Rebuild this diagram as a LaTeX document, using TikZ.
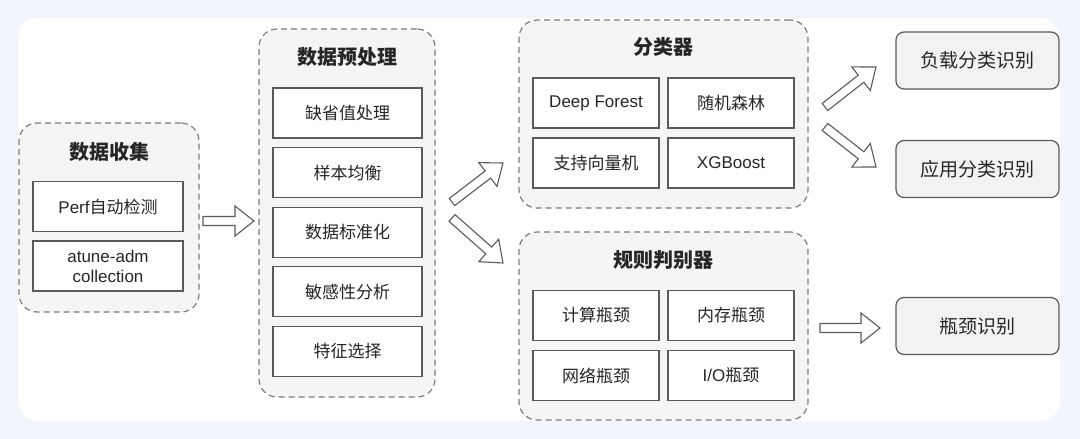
\documentclass[tikz,border=0pt]{standalone}
\usepackage{fontspec}
\setmainfont{Noto Sans CJK SC}
\newfontfamily\latinf{Liberation Sans}
\usepackage{tikz}
\usetikzlibrary{calc}

\definecolor{pagebg}{RGB}{242,245,251}
\definecolor{groupfill}{RGB}{245,245,245}
\definecolor{groupline}{RGB}{125,125,125}
\definecolor{cellline}{RGB}{90,90,90}
\definecolor{outfill}{RGB}{242,242,242}
\definecolor{inktext}{RGB}{38,38,38}

\tikzset{
  group/.style={draw=groupline, dash pattern=on 6pt off 4pt, line width=1.2pt,
    fill=groupfill, rounded corners=18pt},
  grouptitle/.style={font=\fontsize{20}{24}\selectfont\bfseries, text=inktext},
  cell/.style={draw=cellline, line width=1.2pt, fill=white, minimum height=50pt,
    inner sep=0pt, align=center, text=inktext, font=\fontsize{17}{20}\selectfont},
  result/.style={draw=cellline, line width=1.2pt, fill=outfill, rounded corners=8pt,
    minimum width=163pt, minimum height=57pt, text=inktext,
    font=\fontsize{19}{22}\selectfont},
  fatarrow/.style={draw=cellline, line width=1.1pt, fill=white, line join=miter},
}

% hollow block arrow from #1 to #2
\newcommand{\hollowarrow}[2]{%
  \coordinate (neck) at ($(#2)!19pt!(#1)$);
  \path[fatarrow] ($(#1)!4.5pt!90:(#2)$) -- ($(neck)!4.5pt!-90:(#1)$)
    -- ($(neck)!15pt!-90:(#1)$) -- (#2) -- ($(neck)!15pt!90:(#1)$)
    -- ($(neck)!4.5pt!90:(#1)$) -- ($(#1)!4.5pt!-90:(#2)$) -- cycle;
}

\begin{document}
\begin{tikzpicture}[x=1pt,y=-1pt]
  \useasboundingbox (0,0) rectangle (1080,439);
  \fill[pagebg] (0,0) rectangle (1080,439);
  \fill[white, rounded corners=20pt] (18,18) rectangle (1060,421);

  % data collection
  \node[group, minimum width=180pt, minimum height=189pt] (collect) at (109,217.5) {};
  \node[grouptitle] (collect-t) at (109,152) {数据收集};
  \node[cell, minimum width=150pt] (collect-1) at (108,206.5) {{\latinf Perf}自动检测};
  \node[cell, minimum width=150pt] (collect-2) at (108,266)
    {{\latinf atune-adm}\\{\latinf collection}};

  % preprocessing
  \node[group, minimum width=176pt, minimum height=368pt] (prep) at (347,213) {};
  \node[grouptitle] (prep-t) at (347,57) {数据预处理};
  \foreach \lab [count=\i] in {缺省值处理,样本均衡,数据标准化,敏感性分析,特征选择}
    \node[cell, minimum width=149pt] (prep-\i) at (347.5,{53.4+59.6*\i}) {\lab};

  % classifier
  \node[group, minimum width=289pt, minimum height=188pt] (clf) at (663.5,114) {};
  \node[grouptitle] (clf-t) at (663.5,47) {分类器};
  \foreach \x/\y/\lab [count=\i] in {596/103/{{\latinf Deep Forest}}, 731/103/随机森林,
      596/163/支持向量机, 731/163/{{\latinf XGBoost}}}
    \node[cell, minimum width=126pt] (clf-\i) at (\x,\y) {\lab};

  % rule judge
  \node[group, minimum width=289pt, minimum height=188pt] (rule) at (663.5,326) {};
  \node[grouptitle] (rule-t) at (663.5,260) {规则判别器};
  \foreach \x/\y/\lab [count=\i] in {596/315.5/计算瓶颈, 731/315.5/内存瓶颈,
      596/375.5/网络瓶颈, 731/375.5/{{\latinf I/O}瓶颈}}
    \node[cell, minimum width=126pt] (rule-\i) at (\x,\y) {\lab};

  % results
  \node[result] (load) at (977.5,60.5) {负载分类识别};
  \node[result] (app) at (977.5,169) {应用分类识别};
  \node[result] (bottle) at (977.5,326) {瓶颈识别};

  % arrows
  \coordinate (a1s) at (203,221);  \coordinate (a1e) at (254,221);
  \coordinate (a2s) at (452,202);  \coordinate (a2e) at (503,163);
  \coordinate (a3s) at (452,218);  \coordinate (a3e) at (503,263);
  \coordinate (a4s) at (825,107);  \coordinate (a4e) at (876,67);
  \coordinate (a5s) at (825,127);  \coordinate (a5e) at (876,167);
  \coordinate (a6s) at (820,328);  \coordinate (a6e) at (880,328);
  \foreach \k in {1,...,6} {
    \hollowarrow{a\k s}{a\k e}
  }
\end{tikzpicture}
\end{document}
